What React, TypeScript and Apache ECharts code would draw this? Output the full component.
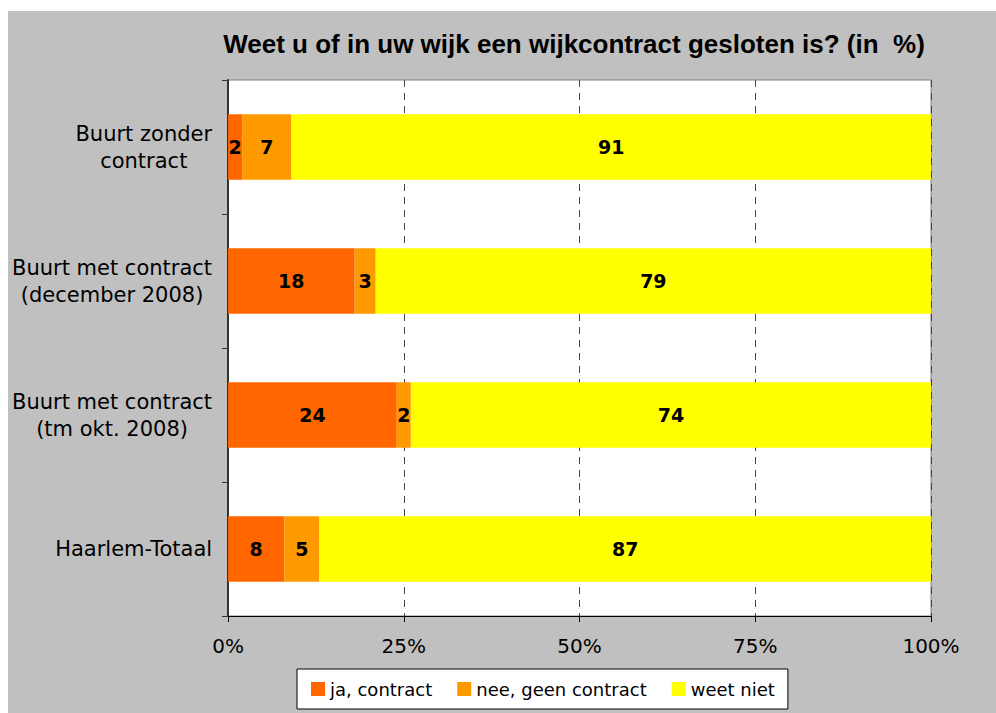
import React, { useEffect, useRef } from "react";
import * as echarts from "echarts";

const categories = [
  "Buurt zonder\ncontract",
  "Buurt met contract\n(december 2008)",
  "Buurt met contract\n(tm okt. 2008)",
  "Haarlem-Totaal",
];
const seriesNames = ["ja, contract", "nee, geen contract", "weet niet"];
const jaContract = [2, 18, 24, 8];
const neeContract = [7, 3, 2, 5];
const weetNiet = [91, 79, 74, 87];
const xTicks = [0, 25, 50, 75, 100];
const colors = ["#FF6600", "#FF9900", "#FFFF00"];

const LABEL_FONT = "DejaVu Sans";

function measure(text: string, size: number): number {
  const c = document.createElement("canvas");
  const ctx = c.getContext("2d");
  if (!ctx) return text.length * size * 0.6;
  ctx.font = `${size}px "${LABEL_FONT}"`;
  return ctx.measureText(text).width;
}

export default function App() {
  const ref = useRef<HTMLDivElement>(null);
  useEffect(() => {
    if (!ref.current) return;
    const chart = echarts.init(ref.current, null, { renderer: "svg" });
    const labelSize = 21;
    const rich: Record<string, any> = {};
    categories.forEach((c, i) => {
      const w = Math.max(...c.split("\n").map((l) => measure(l, labelSize))) + 2;
      rich["c" + i] = {
        width: w,
        align: "center",
        fontSize: labelSize,
        fontFamily: LABEL_FONT,
        color: "#000",
        lineHeight: 27,
      };
    });
    const data = [jaContract, neeContract, weetNiet];
    chart.setOption({
      animation: false,
      backgroundColor: "#C0C0C0",
      title: {
        text: "Weet u of in uw wijk een wijkcontract gesloten is? (in  %)",
        left: 561,
        top: 15,
        textAlign: "center",
        textStyle: {
          fontFamily: "Liberation Sans",
          fontWeight: "bold",
          fontSize: 26,
          color: "#000",
        },
      },
      grid: {
        left: 220,
        right: 65,
        top: 69,
        bottom: 97,
        show: true,
        backgroundColor: "#FFFFFF",
        borderColor: "#808080",
        borderWidth: 1,
      },
      legend: {
        data: seriesNames,
        left: 289,
        top: 658,
        itemWidth: 14,
        itemHeight: 14,
        itemGap: 25,
        padding: [11, 13, 11, 14],
        backgroundColor: "#FFFFFF",
        borderColor: "#000",
        borderWidth: 1,
        borderRadius: 0,
        icon: "rect",
        textStyle: { fontFamily: LABEL_FONT, fontSize: 18, color: "#000" },
      },
      xAxis: {
        type: "value",
        min: 0,
        max: 100,
        interval: 25,
        axisLine: { show: true, lineStyle: { color: "#000", width: 1 } },
        axisTick: { show: true, length: 6, lineStyle: { color: "#000" } },
        axisLabel: {
          formatter: (v: number) => (xTicks.includes(v) ? v + "%" : ""),
          fontFamily: LABEL_FONT,
          fontSize: 20,
          color: "#000",
          margin: 20,
        },
        splitLine: {
          show: true,
          lineStyle: { color: "#444", type: [7, 6], width: 1 },
        },
      },
      yAxis: {
        type: "category",
        data: categories,
        inverse: true,
        axisLine: { show: true, lineStyle: { color: "#333", width: 2 } },
        axisTick: { show: true, length: 6, lineStyle: { color: "#333" } },
        axisLabel: {
          margin: 15,
          align: "right",
          formatter: (v: string) => {
            const i = categories.indexOf(v);
            return v
              .split("\n")
              .map((l) => `{c${i}|${l}}`)
              .join("\n");
          },
          rich,
        },
      },
      series: seriesNames.map((name, si) => ({
        name,
        type: "bar",
        stack: "total",
        barWidth: "49%",
        data: data[si],
        itemStyle: { color: colors[si] },
        label: {
          show: true,
          position: "inside",
          color: "#000",
          fontWeight: "bold",
          fontFamily: LABEL_FONT,
          fontSize: 19,
        },
      })),
    });
    return () => chart.dispose();
  }, []);
  return (
    <div
      ref={ref}
      style={{ position: "absolute", left: 8, top: 11, width: 988, height: 702 }}
    />
  );
}
